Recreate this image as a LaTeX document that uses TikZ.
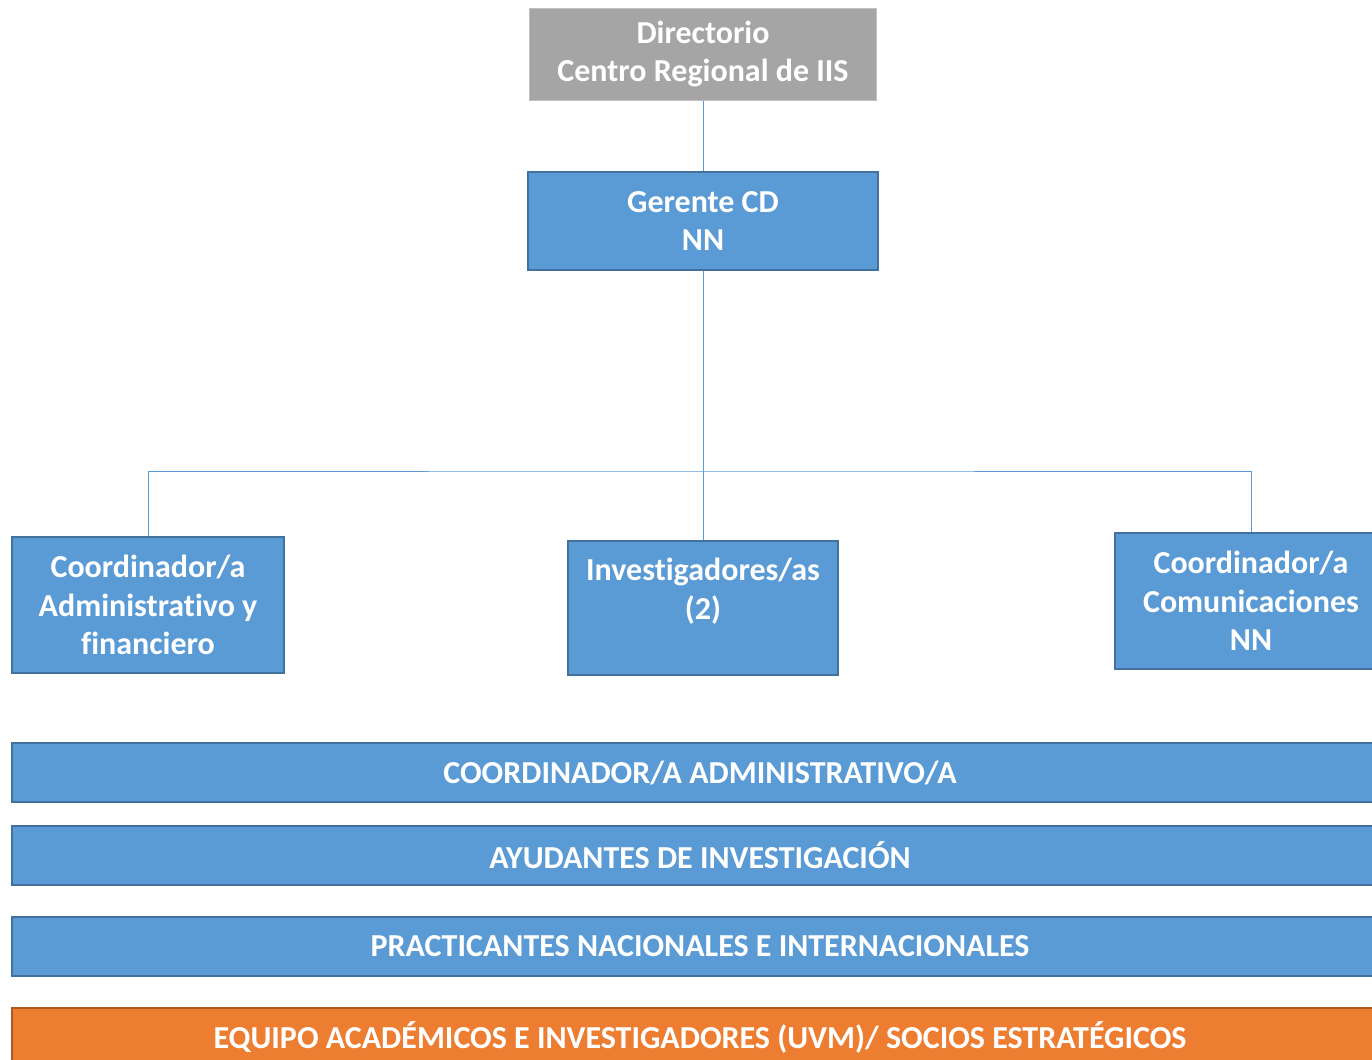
\documentclass[tikz,border=0pt]{standalone}
\usepackage{fontspec}
\setmainfont{Carlito}[Ligatures=NoCommon]
\definecolor{cajaazul}{RGB}{91,155,213}
\definecolor{bordeazul}{RGB}{65,113,156}
\definecolor{cajagris}{RGB}{165,165,165}
\definecolor{cajanaranja}{RGB}{237,125,49}
\definecolor{bordenaranja}{RGB}{174,90,33}
\tikzset{every picture/.style={line width=0.75pt}}
\tikzset{
  caja/.style={draw=bordeazul, line width=1.5pt, fill=cajaazul, text=white,
    font=\bfseries\fontsize{24}{28.8}\selectfont, align=center, inner sep=0pt},
  barra/.style={caja, minimum width=1032pt, minimum height=44pt},
  enlace/.style={draw=cajaazul, line width=0.75pt}
}

\begin{document}
\begin{tikzpicture}[x=0.75pt,y=0.75pt,yscale=-1,xscale=1]
\useasboundingbox (0,0) rectangle (1372,1060);

%Directorio
\node [caja, draw=cajagris!70, line width=0.75pt, fill=cajagris, minimum width=260pt, minimum height=69pt] (dir) at (703,54) {Directorio\\Centro Regional de IIS};
%Gerente
\node [caja, minimum width=263pt, minimum height=73.5pt] (ger) at (703,221) {Gerente CD\\NN};

%Coordinaciones e investigadores
\node [caja, minimum width=204pt, minimum height=102pt] (adm) at (148,605) {Coordinador/a\\Administrativo y\\financiero};
\node [caja, minimum width=203pt, minimum height=100pt] (inv) at (703,608) {Investigadores/as\\(2)\\\mbox{}};
\node [caja, minimum width=204pt, minimum height=102pt] (com) at (1251,601) {Coordinador/a\\Comunicaciones\\NN};

%Barras
\node [barra] (ca) at (700,772.5) {COORDINADOR/A ADMINISTRATIVO/A};
\node [barra] (ai) at (700,855.5) {AYUDANTES DE INVESTIGACIÓN};
\node [barra] (pi) at (700,946.5) {PRACTICANTES NACIONALES E INTERNACIONALES};
\node [barra, draw=bordenaranja, fill=cajanaranja] (eq) at (700,1037.5) {EQUIPO ACADÉMICOS E INVESTIGADORES (UVM)/ SOCIOS ESTRATÉGICOS};

%Lineas
\coordinate (bus) at (703,471);
\draw [enlace] (dir.south) -- (ger.north);
\draw [enlace] (ger.south) -- (inv.north);
\draw [enlace] (adm.north) |- (bus) -| (com.north);

\end{tikzpicture}
\end{document}
